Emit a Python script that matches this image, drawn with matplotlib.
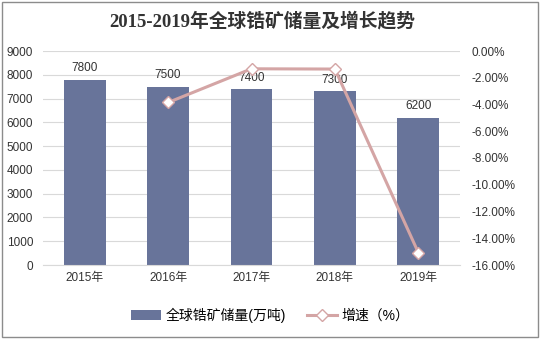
import numpy as np
import matplotlib.pyplot as plt
from matplotlib.patches import Rectangle

plt.rcParams['font.family'] = ['Liberation Sans', 'Noto Sans CJK SC', 'DejaVu Sans']

# 数据
years = ['2015年', '2016年', '2017年', '2018年', '2019年']
reserves = [7800, 7500, 7400, 7300, 6200]
growth = [np.nan, -3.85, -1.33, -1.35, -15.07]

x = np.arange(len(years))

fig = plt.figure(figsize=(5.4, 3.39), dpi=100)
ax = fig.add_axes([43 / 540, 1 - 265 / 339, (460 - 43) / 540, (265 - 51) / 339])
ax2 = ax.twinx()

# 柱状图
ax.bar(x, reserves, width=0.5, color='#68749a', zorder=2, label='全球锆矿储量(万吨)')
for xi, v in zip(x, reserves):
    ax.text(xi, v + 230, str(v), ha='center', va='bottom', fontsize=8.5, color='#333333')

ax.set_xlim(-0.5, len(years) - 0.5)
ax.set_ylim(0, 9000)
ax.set_yticks(np.arange(0, 9001, 1000))
ax.set_xticks(x)
ax.set_xticklabels(years)
ax.grid(axis='y', color='#d9d9d9', linewidth=0.8, zorder=0)
for s in ['top', 'left', 'right']:
    ax.spines[s].set_visible(False)
ax.spines['bottom'].set_color('#d9d9d9')
ax.tick_params(axis='both', length=0, labelsize=8.5, colors='#333333')
ax.tick_params(axis='y', pad=7)
ax.tick_params(axis='x', pad=5)

# 折线
ax2.plot(x, growth, color='#d4a5a5', linewidth=2.2, marker='D', markersize=6,
         markerfacecolor='white', markeredgecolor='#d4a5a5', zorder=3, label='增速（%）')
ax2.set_ylim(-16, 0)
ax2.set_yticks(np.arange(-16, 0.1, 2))
ax2.set_yticklabels(['%.2f%%' % v for v in np.arange(-16, 0.1, 2)])
for s in ['top', 'left', 'right', 'bottom']:
    ax2.spines[s].set_visible(False)
ax2.tick_params(axis='y', length=0, labelsize=8.5, colors='#333333', pad=8)

fig.suptitle('2015-2019年全球锆矿储量及增长趋势', x=0.485, y=0.965, fontsize=13.5,
             fontweight='bold', color='#333333',
             family=['Liberation Serif', 'Noto Sans CJK SC'])

h1, l1 = ax.get_legend_handles_labels()
h2, l2 = ax2.get_legend_handles_labels()
fig.legend(h1 + h2, l1 + l2, loc='center', bbox_to_anchor=(0.5, 1 - 315 / 339),
           ncol=2, frameon=False, fontsize=10, handlelength=2.2, handletextpad=0.3,
           columnspacing=1.5)

fig.patches.append(Rectangle((0.003, 0.005), 0.994, 0.99, transform=fig.transFigure,
                             fill=False, edgecolor='#8c8c8c', linewidth=1))

fig.savefig('out.png', dpi=100)
